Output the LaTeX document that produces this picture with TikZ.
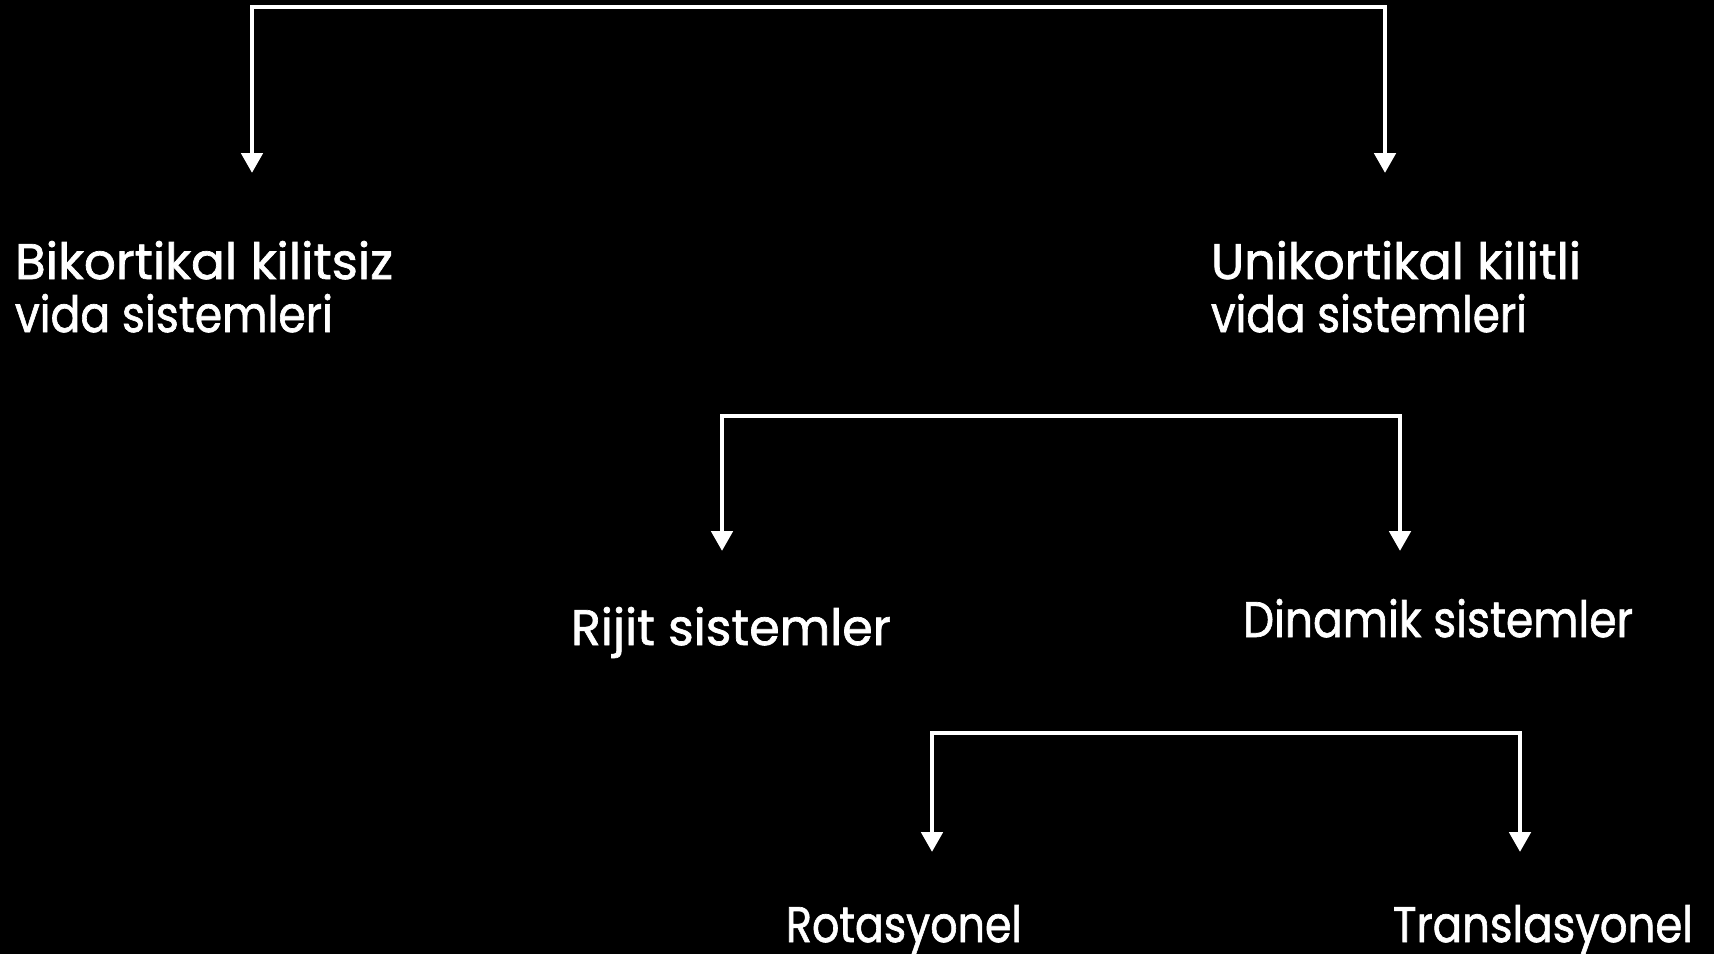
\documentclass[tikz,border=0pt]{standalone}
\usepackage{fontspec}
\setmainfont{Poppins}[BoldFont=*, BoldFeatures={FakeBold=1.4}]
\usepackage{graphicx}
\usetikzlibrary{arrows.meta}
\newcommand{\fitw}[2]{\resizebox{#1}{\height}{#2}}
\tikzset{
  lbl/.style={anchor=base west, inner sep=0pt, outer sep=0pt, text=white,
    font=\fontsize{50}{53}\selectfont\bfseries},
  bracket/.style={draw=white, line width=4.8pt, line join=miter,
    {Triangle[width=21pt,length=20pt]}-{Triangle[width=21pt,length=20pt]}},
}
\begin{document}
\begin{tikzpicture}[x=1pt,y=-1pt]
\fill[black] (0,0) rectangle (1714,954);
\useasboundingbox (0,0) rectangle (1714,954);

% labels
\node[lbl] (bik) at (15,279) {\vtop{\baselineskip=53pt\hbox{\fitw{378pt}{Bikortikal kilitsiz}}\hbox{\fitw{318pt}{vida sistemleri}}}};
\node[lbl] (uni) at (1211,279) {\vtop{\baselineskip=53pt\hbox{\fitw{370pt}{Unikortikal kilitli}}\hbox{\fitw{316pt}{vida sistemleri}}}};
\node[lbl] (rij) at (571,645) {\fitw{320pt}{Rijit sistemler}};
\node[lbl] (din) at (1243,637) {\fitw{390pt}{Dinamik sistemler}};
\node[lbl] (rot) at (786,942) {\fitw{236pt}{Rotasyonel}};
\node[lbl] (tra) at (1393,942) {\fitw{300pt}{Translasyonel}};

% bracket coordinates
\coordinate (b1l) at (252,173);
\coordinate (b1tl) at (252,7);
\coordinate (b1tr) at (1385,7);
\coordinate (b1r) at (1385,173);

\coordinate (b2l) at (722,551);
\coordinate (b2tl) at (722,416);
\coordinate (b2tr) at (1400,416);
\coordinate (b2r) at (1400,551);

\coordinate (b3l) at (932,852);
\coordinate (b3tl) at (932,733);
\coordinate (b3tr) at (1520,733);
\coordinate (b3r) at (1520,852);

\draw[bracket] (b1l) -- (b1tl) -- (b1tr) -- (b1r);
\draw[bracket] (b2l) -- (b2tl) -- (b2tr) -- (b2r);
\draw[bracket] (b3l) -- (b3tl) -- (b3tr) -- (b3r);
\end{tikzpicture}
\end{document}
